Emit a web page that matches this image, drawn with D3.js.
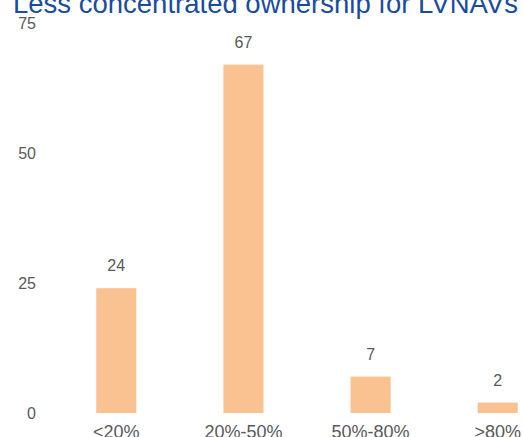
<!DOCTYPE html>
<html>
<head>
<meta charset="utf-8">
<style>
  body { margin: 0; background: #fff; }
  svg { display: block; font-family: "Liberation Sans", Arial, sans-serif; }
  .tick, .val { fill: #595959; font-size: 16px; }
  .cat { fill: #595959; font-size: 18px; }
  .title { fill: #1a4c9e; font-size: 27.5px; }
</style>
</head>
<body>
<svg width="523" height="437"></svg>
<script src="https://cdn.jsdelivr.net/npm/d3@7"></script>
<script>
var categories = ["<20%", "20%-50%", "50%-80%", ">80%"];
var values = [24, 67, 7, 2];
var yTicks = [0, 25, 50, 75];
var title = "Less concentrated ownership for LVNAVs";

var svg = d3.select("svg");

var x = d3.scaleBand().domain(categories).range([53, 561]).paddingInner(0.685).paddingOuter(0.34);
var y = d3.scaleLinear().domain([0, 75]).range([413, 23]);

svg.append("text")
  .attr("class", "title")
  .attr("x", 13)
  .attr("y", 13)
  .text(title);

// y tick labels only, no axis line or grid
svg.append("g").selectAll("text")
  .data(yTicks)
  .enter().append("text")
  .attr("class", "tick")
  .attr("x", 36)
  .attr("y", function(d) { return y(d); })
  .attr("dy", "0.35em")
  .attr("text-anchor", "end")
  .text(function(d) { return d; });

svg.append("g").selectAll("rect")
  .data(values)
  .enter().append("rect")
  .attr("x", function(d, i) { return x(categories[i]); })
  .attr("y", function(d) { return y(d); })
  .attr("width", x.bandwidth())
  .attr("height", function(d) { return y(0) - y(d); })
  .attr("fill", "#fac291");

svg.append("g").selectAll("text")
  .data(values)
  .enter().append("text")
  .attr("class", "val")
  .attr("x", function(d, i) { return x(categories[i]) + x.bandwidth() / 2; })
  .attr("y", function(d) { return y(d) - 17; })
  .attr("text-anchor", "middle")
  .text(function(d) { return d; });

svg.append("g").selectAll("text")
  .data(categories)
  .enter().append("text")
  .attr("class", "cat")
  .attr("x", function(d) { return x(d) + x.bandwidth() / 2; })
  .attr("y", 438)
  .attr("text-anchor", "middle")
  .text(function(d) { return d; });
</script>
</body>
</html>
